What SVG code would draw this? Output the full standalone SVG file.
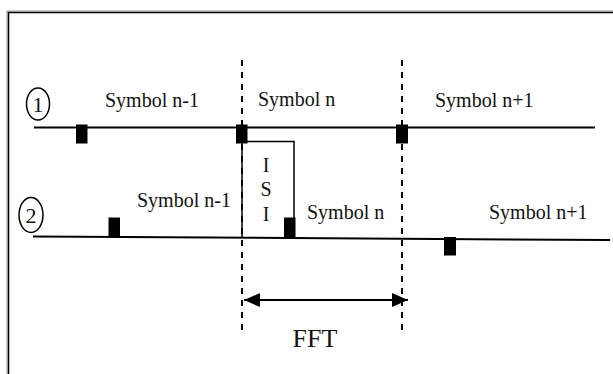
<svg xmlns="http://www.w3.org/2000/svg" width="613" height="374" viewBox="0 0 613 374">
  <style>
    text { font-family: "Liberation Serif", "Times New Roman", serif; font-size: 20px; fill: #111; }
    .line { stroke: #000; stroke-width: 2; fill: none; }
    .dash { stroke: #000; stroke-width: 2; stroke-dasharray: 6 6; fill: none; }
    .mark { fill: #000; }
    .thin { stroke: #000; stroke-width: 1.5; fill: none; }
    .num { font-size: 22px; }
  </style>
  <defs>
    <marker id="arrow" viewBox="0 0 16 14" refX="16" refY="7" markerWidth="16" markerHeight="14" markerUnits="userSpaceOnUse" orient="auto-start-reverse">
      <path d="M0,0 L16,7 L0,14 Z" fill="#000"/>
    </marker>
  </defs>
  <rect width="613" height="374" fill="#fff"/>
  <!-- outer frame (double rule) -->
  <rect x="7" y="11" width="640" height="400" fill="none" stroke="#999" stroke-width="1"/>
  <rect x="8.5" y="12.5" width="640" height="400" fill="none" stroke="#000" stroke-width="1.5"/>

  <!-- connectors: symbol time lines, FFT window boundaries, FFT span -->
  <g id="connectors">
    <line class="line" x1="34" y1="127.5" x2="595" y2="127.5"/>
    <line class="line" x1="33" y1="236.5" x2="610" y2="240"/>
    <line class="dash" x1="242" y1="60" x2="242" y2="334"/>
    <line class="dash" x1="402" y1="60" x2="402" y2="334"/>
    <line class="line" x1="244" y1="300" x2="408" y2="300" marker-start="url(#arrow)" marker-end="url(#arrow)"/>
  </g>

  <!-- path 1 -->
  <g id="path1">
    <ellipse class="thin" cx="38" cy="104" rx="11.5" ry="16"/>
    <text class="num" x="38" y="112" text-anchor="middle">1</text>
    <rect class="mark" x="76" y="124.5" width="11.5" height="19"/>
    <rect class="mark" x="236" y="124.5" width="11.5" height="19"/>
    <rect class="mark" x="396" y="124.5" width="12" height="19"/>
    <text x="105" y="107">Symbol n-1</text>
    <text x="258" y="106">Symbol n</text>
    <text x="435" y="107">Symbol n+1</text>
  </g>

  <!-- path 2 -->
  <g id="path2">
    <ellipse class="thin" cx="31" cy="215" rx="12" ry="17.5"/>
    <text class="num" x="31" y="223" text-anchor="middle">2</text>
    <rect class="mark" x="108.5" y="217.5" width="11.5" height="19.5"/>
    <rect class="mark" x="444" y="237" width="12" height="18.5"/>
    <text x="137" y="207">Symbol n-1</text>
    <text x="307" y="219">Symbol n</text>
    <text x="489" y="219">Symbol n+1</text>
  </g>

  <!-- inter-symbol interference region -->
  <g id="isi">
    <polyline class="thin" points="242,141.5 294,141.5 294,236.5"/>
    <line class="thin" x1="242" y1="128" x2="242" y2="237"/>
    <rect class="mark" x="284" y="217.5" width="11.5" height="19.5"/>
    <text x="266" y="172" text-anchor="middle">I</text>
    <text x="266" y="196" text-anchor="middle">S</text>
    <text x="266" y="221" text-anchor="middle">I</text>
  </g>

  <!-- FFT window label -->
  <g id="fft">
    <text x="315" y="347" text-anchor="middle" style="font-size:26px">FFT</text>
  </g>
</svg>
